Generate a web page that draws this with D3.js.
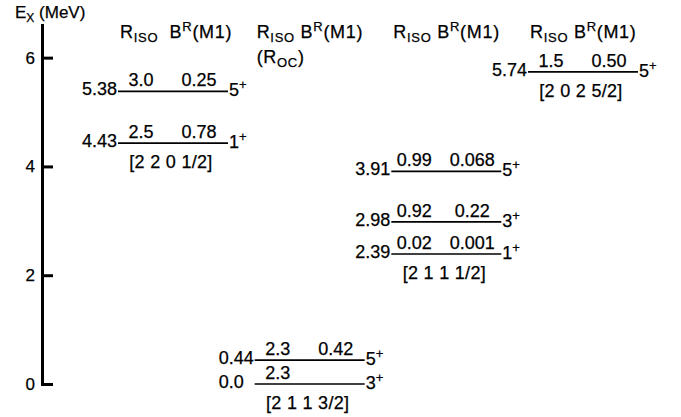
<!DOCTYPE html>
<html>
<head>
<meta charset="utf-8">
<script src="https://cdn.jsdelivr.net/npm/d3@7"></script>
<style>
  html, body { margin: 0; padding: 0; background: #fff; }
  svg { display: block; }
  text { font-family: "Liberation Sans", Arial, Helvetica, sans-serif; fill: #000; stroke: #000; stroke-width: 0.25px; }
</style>
</head>
<body>
<svg id="chart" width="681" height="417"></svg>
<script>
// ---- data ----
const axisTicks = [0, 2, 4, 6];
const axisMax = 6.6;
const columnIndex = [0, 1, 2, 3];
const columnConfig = ["[2 2 0 1/2]", "[2 1 1 3/2]", "[2 1 1 1/2]", "[2 0 2 5/2]"];
const columnHasOC = [false, true, false, false];

const levelColumn = [0, 0, 1, 1, 2, 2, 2, 3];
const levelEnergy = [5.38, 4.43, 0.44, 0.0, 3.91, 2.98, 2.39, 5.74];
const levelLabel  = ["5.38", "4.43", "0.44", "0.0", "3.91", "2.98", "2.39", "5.74"];
const levelRiso   = ["3.0", "2.5", "2.3", "2.3", "0.99", "0.92", "0.02", "1.5"];
const levelBM1    = ["0.25", "0.78", "0.42", "", "0.068", "0.22", "0.001", "0.50"];
const levelSpin   = ["5", "1", "5", "3", "5", "3", "1", "5"];

// ---- layout ----
const svg = d3.select("#chart");
const fs = 18;
const y = d3.scaleLinear().domain([0, axisMax]).range([384, 25]);
const xCol = d3.scaleLinear().domain([0, 3]).range([118, 528]);
const lineW = 110;

// axis
const axis = d3.axisLeft(y).tickValues(axisTicks).tickSizeInner(-11).tickSizeOuter(0).tickPadding(7)
  .tickFormat(d3.format("d"));
const gAxis = svg.append("g").attr("transform", "translate(42,0)").call(axis);
gAxis.select(".domain").attr("stroke", "#000").attr("stroke-width", 3).attr("stroke-linecap", "square");
gAxis.selectAll(".tick line").attr("stroke", "#000").attr("stroke-width", 3);
gAxis.selectAll(".tick text").attr("font-size", 17).attr("fill", "#000")
  .attr("font-family", '"Liberation Sans", Arial, Helvetica, sans-serif');

// axis title
const ttl = svg.append("text").attr("x", 15).attr("y", 18).attr("font-size", 17);
ttl.append("tspan").text("E");
ttl.append("tspan").attr("font-size", 12).attr("dy", 4).text("X");
ttl.append("tspan").attr("dy", -4).text(" (MeV)");

// column headers
columnIndex.forEach(c => {
  const x0 = xCol(c) + 2;
  const t = svg.append("text").attr("x", x0).attr("y", 38).attr("font-size", fs).attr("letter-spacing", 0.7);
  t.append("tspan").text("R");
  t.append("tspan").attr("font-size", 13).attr("dy", 4).text("ISO");
  t.append("tspan").attr("dy", -4).text(c === 0 ? "\u00a0 B" : " B");
  t.append("tspan").attr("font-size", 13).attr("dy", -7).text("R");
  t.append("tspan").attr("dy", 7).text("(M1)");
  if (columnHasOC[c]) {
    const t2 = svg.append("text").attr("x", x0).attr("y", 63).attr("font-size", fs).attr("letter-spacing", 0.7);
    t2.append("tspan").text("(R");
    t2.append("tspan").attr("font-size", 13).attr("dy", 4).text("OC");
    t2.append("tspan").attr("dy", -4).text(")");
  }
});

// levels
const levels = levelEnergy.map((e, i) => ({
  col: levelColumn[i], e, label: levelLabel[i], r: levelRiso[i], b: levelBM1[i], spin: levelSpin[i]
}));

const g = svg.append("g");
levels.forEach(d => {
  const x0 = xCol(d.col), x1 = x0 + lineW, yy = y(d.e);
  g.append("line").attr("x1", x0).attr("x2", x1).attr("y1", yy).attr("y2", yy)
    .attr("stroke", "#000").attr("stroke-width", 1.7);
  g.append("text").attr("x", x0 - 36).attr("y", yy + 4).attr("font-size", fs).text(d.label);
  g.append("text").attr("x", x0 + 23).attr("y", yy - 5).attr("font-size", fs)
    .attr("text-anchor", "middle").text(d.r);
  if (d.b) g.append("text").attr("x", x1 - 29).attr("y", yy - 5).attr("font-size", fs)
    .attr("text-anchor", "middle").text(d.b);
  const s = g.append("text").attr("x", x1 + 1).attr("y", yy + 5).attr("font-size", fs);
  s.append("tspan").text(d.spin);
  s.append("tspan").attr("font-size", 13).attr("dy", -7).text("+");
});

// configuration labels below the lowest level of each column
columnIndex.forEach(c => {
  const lowest = d3.min(levels.filter(d => d.col === c), d => d.e);
  g.append("text").attr("x", xCol(c) + lineW / 2 - 2).attr("y", y(lowest) + 25)
    .attr("font-size", fs).attr("letter-spacing", 0.3).attr("text-anchor", "middle").text(columnConfig[c]);
});
</script>
</body>
</html>
